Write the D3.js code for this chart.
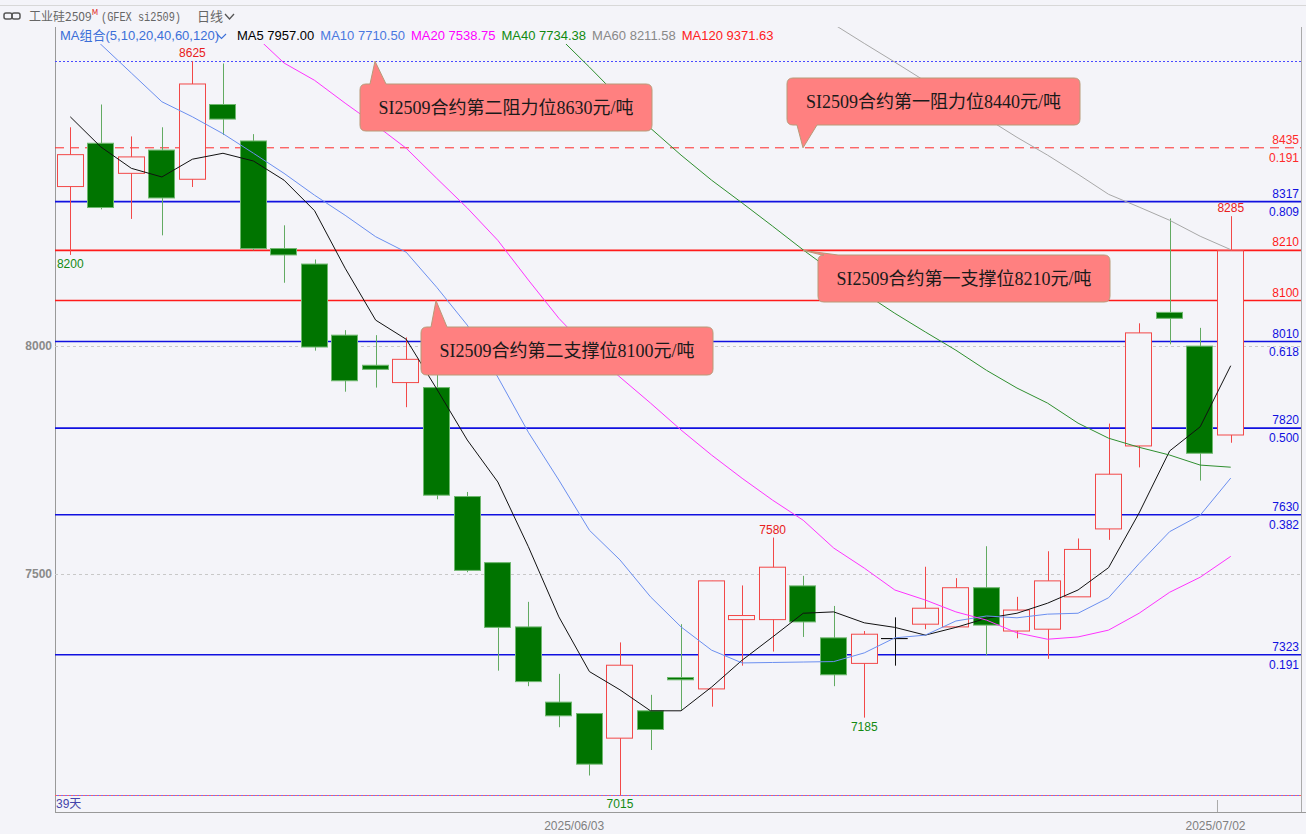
<!DOCTYPE html>
<html>
<head>
<meta charset="utf-8">
<script src="https://cdn.jsdelivr.net/npm/d3@7"></script>
<style>
body { margin: 0; background: #f4f4f9; }
</style>
</head>
<body>
<div id="chart"></div>
<script>
let w = 1306;
let h = 834;
let margin = {top: 27, right: 5, bottom: 22, left: 55};

// 39 trading days, 2025-05-09 .. 2025-07-03
const dates = ['2025/05/09','2025/05/12','2025/05/13','2025/05/14','2025/05/15','2025/05/16',
    '2025/05/19','2025/05/20','2025/05/21','2025/05/22','2025/05/23',
    '2025/05/26','2025/05/27','2025/05/28','2025/05/29','2025/05/30',
    '2025/06/03','2025/06/04','2025/06/05','2025/06/06',
    '2025/06/09','2025/06/10','2025/06/11','2025/06/12','2025/06/13',
    '2025/06/16','2025/06/17','2025/06/18','2025/06/19','2025/06/20',
    '2025/06/23','2025/06/24','2025/06/25','2025/06/26','2025/06/27',
    '2025/06/30','2025/07/01','2025/07/02','2025/07/03'];

const opens  = [8350,8445,8379,8430,8366,8530,8450,8214,8180,8024,7958,7920,7909,7670,7525,7384,7219,7194,7140,7200,
                7273,7248,7400,7400,7474,7360,7304,7359,7390,7384,7470,7375,7379,7450,7599,7781,8074,8000,7805];
const highs  = [8480,8530,8460,8480,8625,8620,8465,8265,8190,8035,8024,8019,7940,7680,7525,7439,7281,7194,7350,7235,
                7390,7485,7475,7580,7496,7430,7375,7405,7516,7491,7561,7450,7550,7578,7830,8050,8280,8040,8285];
const lows   = [8200,8300,8279,8243,8349,8463,8210,8139,7990,7900,7909,7866,7664,7504,7288,7254,7164,7058,7015,7114,
                7202,7209,7299,7330,7362,7254,7185,7299,7379,7384,7322,7359,7314,7450,7575,7734,8004,7705,7788];
const closes = [8420,8304,8415,8325,8575,8498,8214,8200,7998,7924,7949,7971,7673,7508,7383,7264,7189,7083,7300,7159,
                7268,7485,7409,7515,7395,7279,7368,7359,7425,7470,7388,7421,7485,7554,7719,8029,8061,7765,8209];

const ma5  = [8503,8437,8390,8371,8410,8423,8406,8364,8297,8171,8057,8015,7906,7794,7702,7560,7406,7286,7246,7200,
              7200,7252,7311,7362,7414,7417,7393,7383,7366,7383,7403,7414,7436,7465,7514,7634,7770,7823,7957.00];
const ma10 = [8724,8662,8599,8536,8503,8466,8423,8379,8331,8287,8240,8206,8129,8046,7932,7811,7706,7596,7531,7450,
              7384,7333,7305,7306,7307,7308,7327,7360,7366,7397,7408,7404,7412,7414,7448,7523,7593,7629,7710.50];
const ma20 = [null,null,null,null,null,null,8684,8621,8583,8533,8485,8434,8368,8303,8232,8145,8061,7991,7932,7875,
              7816,7761,7710,7662,7618,7557,7513,7465,7443,7417,7399,7371,7357,7362,7377,7414,7460,7493,7538.75];
const ma40 = [null,null,null,null,null,null,null,null,null,null,null,null,null,null,null,null,8678,8612,8544,8478,
              8419,8364,8314,8263,8211,8162,8116,8072,8031,7991,7947,7908,7875,7831,7798,7778,7761,7739,7734.38];
const ma60 = [null,null,null,null,null,null,null,null,null,null,null,null,null,null,null,null,null,null,null,null,
              null,null,null,null,null,8706,8664,8623,8581,8539,8500,8458,8419,8377,8333,8305,8276,8241,8211.58];
const ma120Last = 9371.63;

const maNames  = ['MA5','MA10','MA20','MA40','MA60'];
const maColors = ['#111111','#6b8ff0','#ff33ff','#2f8f2f','#a8a8a8'];

// support / resistance and fibonacci levels
const levelValues = [8435, 8317, 8210, 8100, 8010, 7820, 7630, 7323];
const levelRatios = ['0.191','0.809','','','0.618','0.500','0.382','0.191'];
const levelColors = ['#ff2a2a','#1010e0','#ff1a1a','#ff1a1a','#1010e0','#1010e0','#1010e0','#1010e0'];
const rangeHigh = 8625;
const rangeLow = 7015;

const tickLabels = ['2025/06/03', '2025/07/02'];
const yTicks = [7500, 8000];

const markHigh = [4, 23, 38];
const markLow = [0, 18, 26];

const calloutTexts = ['SI2509合约第二阻力位8630元/吨', 'SI2509合约第一阻力位8440元/吨',
                      'SI2509合约第一支撑位8210元/吨', 'SI2509合约第二支撑位8100元/吨'];
const calloutLevels = [8625, 8435, 8210, 8100];

const sans = "'Liberation Sans', Arial, 'Noto Sans CJK SC', sans-serif";
const bg = '#f4f4f9';

let svg = d3.select('#chart')
    .append('svg')
    .attr('width', w)
    .attr('height', h)
    .style('display', 'block');

svg.append('rect').attr('width', w).attr('height', h).attr('fill', bg);

let xScale = d3.scaleBand()
    .domain(dates)
    .range([margin.left, 1246])
    .paddingInner(0.1)
    .paddingOuter(0.05);
let bw = xScale.bandwidth();
const cx = i => xScale(dates[i]) + bw / 2;

let yScale = d3.scaleLinear()
    .domain([6978, 8700])
    .range([h - margin.bottom, margin.top]);

let plotR = w - margin.right;

// header
svg.append('line').attr('x1', 0).attr('x2', w).attr('y1', 5.5).attr('y2', 5.5).attr('stroke', '#d8d8d8');
svg.append('rect').attr('x', 4).attr('y', 13).attr('width', 8).attr('height', 6).attr('rx', 2)
    .attr('fill', 'none').attr('stroke', '#555').attr('stroke-width', 1.5);
svg.append('rect').attr('x', 12).attr('y', 13).attr('width', 8).attr('height', 6).attr('rx', 2)
    .attr('fill', 'none').attr('stroke', '#555').attr('stroke-width', 1.5);
let title = svg.append('text').attr('x', 29).attr('y', 21).attr('fill', '#666')
    .style('font', "12px 'Noto Sans CJK SC',sans-serif");
title.append('tspan').text('工业硅2509');
title.append('tspan').attr('dy', -6).attr('fill', '#e02020').style('font-size', '8px').text('M');
svg.append('text').attr('x', 101).attr('y', 21).attr('fill', '#666')
    .attr('textLength', 80).attr('lengthAdjust', 'spacingAndGlyphs')
    .style('font', "12px 'Liberation Mono',monospace").text('(GFEX si2509)');
svg.append('text').attr('x', 197).attr('y', 21).attr('fill', '#666')
    .style('font', "13px 'Noto Sans CJK SC',sans-serif").text('日线');
svg.append('path').attr('d', 'M225,14 L229.5,19 L234,14').attr('fill', 'none').attr('stroke', '#555').attr('stroke-width', 1.3);

// frame
svg.append('line').attr('x1', margin.left + 0.5).attr('x2', margin.left + 0.5)
    .attr('y1', margin.top).attr('y2', h - margin.bottom).attr('stroke', '#999');
svg.append('line').attr('x1', plotR + 0.5).attr('x2', plotR + 0.5)
    .attr('y1', margin.top).attr('y2', h - margin.bottom).attr('stroke', '#aaa');
svg.append('line').attr('x1', margin.left).attr('x2', w)
    .attr('y1', h - margin.bottom + 0.5).attr('y2', h - margin.bottom + 0.5).attr('stroke', '#999');

// grid + left axis
let yAxis = d3.axisLeft(yScale).tickValues(yTicks).tickSize(0).tickPadding(3).tickFormat(d3.format('d'));
let gy = svg.append('g').attr('transform', 'translate(' + margin.left + ',0)').call(yAxis);
gy.select('.domain').remove();
gy.selectAll('text').style('font', 'bold 12px ' + sans).attr('fill', '#8a8a8a');
svg.selectAll('.grid').data(yTicks).enter().append('line')
    .attr('x1', margin.left).attr('x2', plotR)
    .attr('y1', d => Math.round(yScale(d)) + 0.5).attr('y2', d => Math.round(yScale(d)) + 0.5)
    .attr('stroke', '#c8c8c8').attr('stroke-dasharray', '3,3');

// bottom axis
let xAxis = d3.axisBottom(xScale).tickValues(tickLabels).tickSize(0).tickFormat(d => d);
let gx = svg.append('g').attr('transform', 'translate(0,' + (h - margin.bottom) + ')').call(xAxis);
gx.select('.domain').remove();
gx.selectAll('text').style('font', '12px ' + sans).attr('fill', '#808080')
    .attr('text-anchor', 'start').attr('x', -bw / 2 - 1).attr('y', 9);

svg.append('line').attr('x1', xScale(dates[38]) + 0.5).attr('x2', xScale(dates[38]) + 0.5)
    .attr('y1', 800).attr('y2', h - margin.bottom).attr('stroke', '#aaa');

let clip = svg.append('clipPath').attr('id', 'plotclip').append('rect')
    .attr('x', margin.left).attr('y', margin.top)
    .attr('width', plotR - margin.left).attr('height', h - margin.top - margin.bottom);
let plot = svg.append('g').attr('clip-path', 'url(#plotclip)');

// range high / low dotted lines
plot.append('line').attr('x1', margin.left).attr('x2', plotR)
    .attr('y1', Math.round(yScale(rangeHigh)) + 0.5).attr('y2', Math.round(yScale(rangeHigh)) + 0.5)
    .attr('stroke', '#4a4aff').attr('stroke-dasharray', '2,2');
plot.append('line').attr('x1', margin.left).attr('x2', plotR)
    .attr('y1', Math.round(yScale(rangeLow)) + 0.5).attr('y2', Math.round(yScale(rangeLow)) + 0.5)
    .attr('stroke', '#ff6060').attr('stroke-dasharray', '2,2');
plot.append('line').attr('x1', margin.left + 2).attr('x2', plotR)
    .attr('y1', Math.round(yScale(rangeLow)) + 0.5).attr('y2', Math.round(yScale(rangeLow)) + 0.5)
    .attr('stroke', '#7070ff').attr('stroke-dasharray', '2,2');

// level lines
levelValues.forEach((v, k) => {
    let yy = yScale(v);
    plot.append('line').attr('x1', margin.left).attr('x2', plotR)
        .attr('y1', yy).attr('y2', yy)
        .attr('stroke', levelColors[k])
        .attr('stroke-width', k === 0 ? 1 : 1.6)
        .attr('stroke-dasharray', k === 0 ? '9,6' : null);
    svg.append('text').attr('x', plotR - 2).attr('y', yy - 4)
        .attr('text-anchor', 'end').attr('fill', levelColors[k])
        .style('font', '12px ' + sans).text(v);
    if (levelRatios[k]) {
        svg.append('text').attr('x', plotR - 2).attr('y', yy + 14)
            .attr('text-anchor', 'end').attr('fill', levelColors[k])
            .style('font', '12px ' + sans).text(levelRatios[k]);
    }
});

// candles
const upC = '#f24848', dnC = '#007400', dnWick = '#62aa62';
const kind = i => closes[i] > opens[i] ? 'up' : (closes[i] < opens[i] ? 'dn' : 'flat');
const idx = d3.range(dates.length);

plot.selectAll('.wick').data(idx).enter().append('line')
    .attr('x1', i => Math.round(cx(i)) + 0.5).attr('x2', i => Math.round(cx(i)) + 0.5)
    .attr('y1', i => yScale(highs[i])).attr('y2', i => yScale(lows[i]))
    .attr('stroke', i => kind(i) === 'up' ? upC : (kind(i) === 'dn' ? dnWick : '#111'));

plot.selectAll('.body').data(idx).enter().append('rect')
    .attr('x', i => Math.round(xScale(dates[i])) + 0.5)
    .attr('width', Math.round(bw) - 1)
    .attr('y', i => yScale(Math.max(opens[i], closes[i])))
    .attr('height', i => Math.max(0.5, Math.abs(yScale(opens[i]) - yScale(closes[i]))))
    .attr('fill', i => kind(i) === 'up' ? bg : (kind(i) === 'dn' ? dnC : '#111'))
    .attr('stroke', i => kind(i) === 'up' ? upC : (kind(i) === 'dn' ? '#6fb86f' : '#111'))
    .attr('stroke-width', i => kind(i) === 'flat' ? 0.6 : 1);

// moving averages
[ma5, ma10, ma20, ma40, ma60].forEach((s, k) => {
    plot.append('path')
        .datum(s)
        .attr('d', d3.line()
            .defined(v => v != null)
            .x((v, i) => cx(i))
            .y(v => yScale(v)))
        .attr('fill', 'none')
        .attr('stroke', maColors[k])
        .attr('stroke-width', 1);
});

// high / low labels
markHigh.forEach(i => {
    svg.append('text').attr('x', cx(i)).attr('y', yScale(highs[i]) - 4)
        .attr('text-anchor', 'middle').attr('fill', '#e82020')
        .style('font', '12px ' + sans).text(highs[i]);
});
markLow.forEach(i => {
    svg.append('text').attr('x', cx(i)).attr('y', yScale(lows[i]) + 13)
        .attr('text-anchor', 'middle').attr('fill', '#128a12')
        .style('font', '12px ' + sans).text(lows[i]);
});

svg.append('text').attr('x', margin.left + 1).attr('y', 808).attr('fill', '#4444aa')
    .style('font', '12px ' + sans).text(dates.length + '天');

// callouts
const boxes = [
    {x0: 360, y0: 84, x1: 652, y1: 131, tx: 375, side: 'top', b0: 370, b1: 386},
    {x0: 787, y0: 78, x1: 1080, y1: 125, tx: 803, side: 'bottom', b0: 797, b1: 817},
    {x0: 818, y0: 255, x1: 1110, y1: 302, tx: 803, side: 'top', b0: 822, b1: 838},
    {x0: 421, y0: 327, x1: 713, y1: 375, tx: 436, side: 'top', b0: 431, b1: 447}
];
const calloutPath = (b, ty) => {
    let r = 6;
    let p = 'M' + (b.x0 + r) + ',' + b.y0;
    if (b.side === 'top') p += ' L' + b.b0 + ',' + b.y0 + ' L' + b.tx + ',' + ty + ' L' + b.b1 + ',' + b.y0;
    p += ' L' + (b.x1 - r) + ',' + b.y0 + ' Q' + b.x1 + ',' + b.y0 + ' ' + b.x1 + ',' + (b.y0 + r);
    p += ' L' + b.x1 + ',' + (b.y1 - r) + ' Q' + b.x1 + ',' + b.y1 + ' ' + (b.x1 - r) + ',' + b.y1;
    if (b.side === 'bottom') p += ' L' + b.b1 + ',' + b.y1 + ' L' + b.tx + ',' + ty + ' L' + b.b0 + ',' + b.y1;
    p += ' L' + (b.x0 + r) + ',' + b.y1 + ' Q' + b.x0 + ',' + b.y1 + ' ' + b.x0 + ',' + (b.y1 - r);
    p += ' L' + b.x0 + ',' + (b.y0 + r) + ' Q' + b.x0 + ',' + b.y0 + ' ' + (b.x0 + r) + ',' + b.y0 + ' Z';
    return p;
};
calloutTexts.forEach((t, k) => {
    let b = boxes[k];
    svg.append('path').attr('d', calloutPath(b, yScale(calloutLevels[k])))
        .attr('fill', '#ff8080').attr('stroke', '#b89a78').attr('stroke-width', 1);
    svg.append('text').attr('x', (b.x0 + b.x1) / 2).attr('y', (b.y0 + b.y1) / 2 + 6)
        .attr('text-anchor', 'middle').attr('fill', '#1a1a1a')
        .style('font', "18px 'Liberation Serif','Noto Sans CJK SC',serif").text(t);
});

// MA legend row
svg.append('rect').attr('x', margin.left + 1).attr('y', margin.top).attr('width', 725).attr('height', 17).attr('fill', bg);
svg.append('text').attr('x', 60).attr('y', 40).attr('fill', '#3b6fd8')
    .style('font', '13px ' + sans).text('MA组合(5,10,20,40,60,120)');
svg.append('path').attr('d', 'M217,34 L221.5,38.5 L226,34').attr('fill', 'none').attr('stroke', '#3b6fd8').attr('stroke-width', 1.1);

const lastVals = [ma5, ma10, ma20, ma40, ma60].map(s => s[s.length - 1]);
const legendItems = maNames.map((n, k) => ({t: n + ' ' + lastVals[k].toFixed(2), c: ['#000', '#4a78e0', '#ff00ff', '#108a10', '#888'][k]}));
legendItems.push({t: 'MA120 ' + ma120Last.toFixed(2), c: '#ff2020'});
let lx = 237;
legendItems.forEach(d => {
    let t = svg.append('text').attr('x', lx).attr('y', 40).attr('fill', d.c)
        .style('font', '13px ' + sans).text(d.t);
    lx += t.node().getComputedTextLength() + 6;
});
</script>
</body>
</html>
